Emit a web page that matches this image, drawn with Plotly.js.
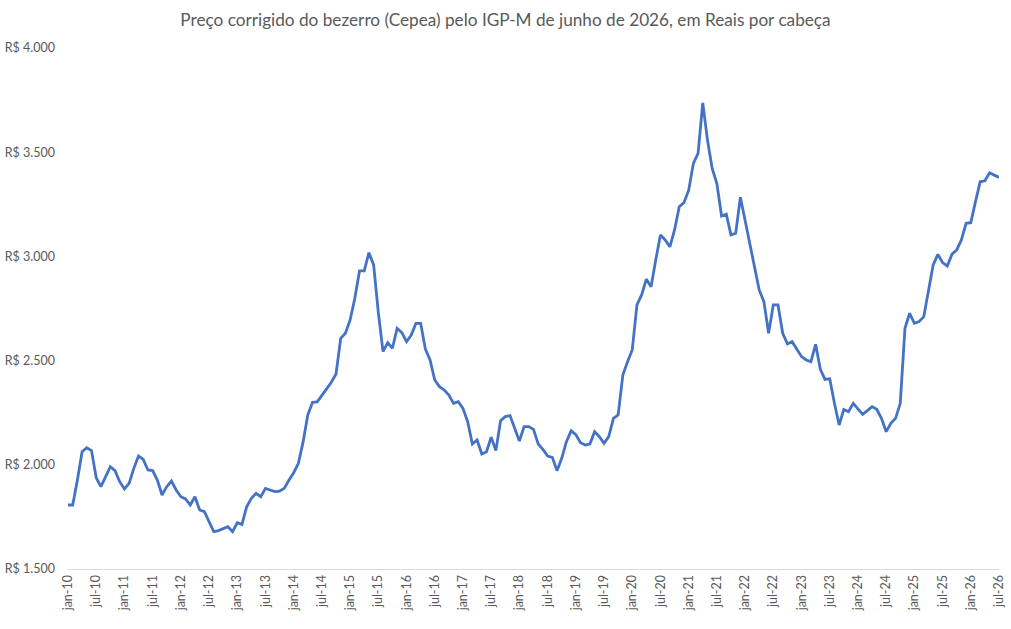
<!DOCTYPE html>
<html>
<head>
<meta charset="utf-8">
<script src="https://cdn.plot.ly/plotly-3.0.1.min.js"></script>
<style>
html,body{margin:0;padding:0;background:#fff;}
#chart{width:1011px;height:629px;}
</style>
</head>
<body>
<div id="chart"></div>
<script>
// Monthly series jan-10 .. jul-26 (R$ per head, corrected by IGP-M)
var startYear = 2010;
var monthAbbr = ['jan','fev','mar','abr','mai','jun','jul','ago','set','out','nov','dez'];
var prices = [
  1807,1807,1927,2063,2082,2068,1938,1895,1943,1991,1972,1919,
  1884,1911,1983,2042,2026,1975,1972,1927,1855,1895,1922,1879,
  1847,1836,1807,1847,1783,1775,1727,1679,1684,1695,1703,1679,
  1722,1714,1799,1839,1863,1847,1887,1879,1871,1874,1887,1927,
  1962,2007,2110,2239,2300,2302,2331,2364,2396,2436,2607,2631,
  2695,2799,2931,2931,3018,2959,2730,2543,2586,2559,2655,2634,
  2591,2623,2679,2679,2556,2503,2407,2375,2359,2335,2295,2303,
  2271,2207,2100,2119,2052,2063,2132,2068,2212,2231,2236,2175,
  2114,2183,2183,2170,2100,2074,2042,2036,1972,2031,2111,2163,
  2145,2106,2095,2100,2159,2135,2103,2135,2223,2239,2431,2495,
  2551,2767,2815,2891,2854,2983,3103,3079,3046,3127,3238,3258,
  3318,3446,3494,3737,3558,3422,3350,3194,3203,3103,3111,3284,
  3175,3070,2950,2839,2783,2631,2767,2767,2631,2580,2591,2554,
  2519,2503,2495,2578,2458,2410,2413,2295,2191,2266,2255,2295,
  2266,2242,2260,2279,2266,2223,2159,2199,2223,2295,2655,2727,
  2679,2687,2711,2839,2959,3010,2970,2954,3011,3031,3079,3159,
  3162,3263,3358,3363,3401,3390,3379
];
var yTickVals = [1500,2000,2500,3000,3500,4000];
var yTickText = ['R$ 1.500','R$ 2.000','R$ 2.500','R$ 3.000','R$ 3.500','R$ 4.000'];

var months = [];
for (var i = 0; i < prices.length; i++) {
  var yy = startYear + Math.floor(i / 12);
  months.push(monthAbbr[i % 12] + '-' + String(yy).slice(2));
}
var xTickVals = months.filter(function(m){ return m.indexOf('jan-') === 0 || m.indexOf('jul-') === 0; });

var trace = {
  x: months,
  y: prices,
  type: 'scatter',
  mode: 'lines',
  line: {color: '#4472C4', width: 2.8},
  hoverinfo: 'x+y'
};

var fontFam = 'Lato, "Open Sans", sans-serif';
var layout = {
  width: 1011,
  height: 629,
  margin: {l: 68, r: 12, t: 48, b: 60},
  paper_bgcolor: '#ffffff',
  plot_bgcolor: '#ffffff',
  showlegend: false,
  title: {
    text: 'Preço corrigido do bezerro (Cepea) pelo IGP-M de junho de 2026, em Reais por cabeça',
    font: {family: fontFam, size: 17.2, color: '#595959'},
    x: 0.5, xanchor: 'center',
    y: 0.968, yanchor: 'middle'
  },
  xaxis: {
    type: 'category',
    range: [0, prices.length - 1],
    tickmode: 'array',
    tickvals: xTickVals,
    ticktext: xTickVals,
    tickangle: -90,
    ticks: '',
    showgrid: false,
    zeroline: false,
    showline: true,
    linecolor: '#D9D9D9',
    linewidth: 1,
    tickfont: {family: fontFam, size: 12.5, color: '#595959'},
    fixedrange: true
  },
  yaxis: {
    range: [1500, 4000],
    tickmode: 'array',
    tickvals: yTickVals,
    ticktext: yTickText,
    ticks: '',
    showgrid: false,
    zeroline: false,
    showline: false,
    ticklabelstandoff: 12,
    tickfont: {family: fontFam, size: 12.5, color: '#595959'},
    fixedrange: true
  }
};

Plotly.newPlot('chart', [trace], layout, {displayModeBar: false, staticPlot: true});
</script>
</body>
</html>
